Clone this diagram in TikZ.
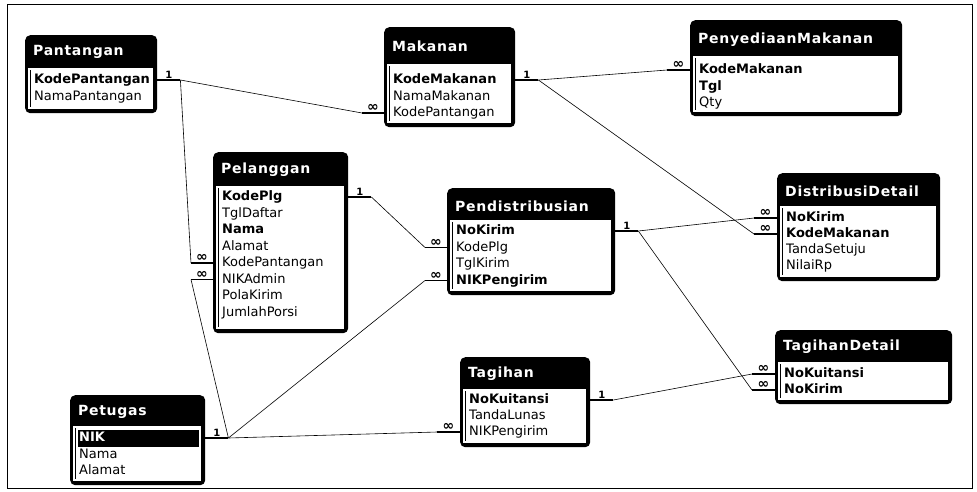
\documentclass[tikz,border=0pt]{standalone}
\usepackage{fontspec}
\usepackage{tikz}
\usetikzlibrary{positioning}
\newfontfamily\erdfont{DejaVu Sans}
\newfontfamily\erdtitlefont[LetterSpace=5]{DejaVu Sans}

\tikzset{
  tblbox/.style={anchor=north west, fill=black, rounded corners=5pt, inner sep=0pt},
  tblbody/.style={anchor=north west, fill=white, inner sep=0pt,
    path picture={\draw[line width=0.8pt] ([xshift=2.5pt,yshift=-2pt]path picture bounding box.north west)
      -- ([xshift=2.5pt,yshift=2pt]path picture bounding box.south west);}},
  ttl/.style={anchor=west, text=white, inner sep=0pt, font=\erdtitlefont\bfseries\fontsize{14}{14}\selectfont},
  fld/.style={anchor=west, text width=#1, inner xsep=0pt, inner ysep=0pt, text height=9.5pt, text depth=2.5pt,
    font=\erdfont\fontsize{13}{13}\selectfont, execute at begin node=\hspace*{9pt}},
  pk/.style={font=\erdfont\bfseries\fontsize{13}{13}\selectfont},
  stub/.style={line width=1.6pt},
  rel/.style={line width=0.6pt},
  card/.style={above, inner sep=0.5pt, font=\erdfont\bfseries\fontsize{10}{10}\selectfont},
  many/.style={card, font=\erdfont\bfseries\fontsize{14}{14}\selectfont},
}

\begin{document}
\begin{tikzpicture}[x=1pt, y=-1pt]
    \useasboundingbox (0,0) rectangle (977,491);
    \draw[line width=0.7pt] (7,4) rectangle (972,488);

    % Pantangan
    \node[tblbox, minimum width=132pt, minimum height=78pt] (pantBox) at (25,35) {};
    \node[tblbody, minimum width=125pt, minimum height=41pt] (pantBody) at (28,68) {};
    \node[ttl] (pantTitle) at (33,52) {Pantangan};
    \node[fld=132pt, pk] (pantKode) at (25,80) {KodePantangan};
    \node[fld=132pt] (pantNama) at (25,96.5) {NamaPantangan};

    % Makanan
    \node[tblbox, minimum width=131pt, minimum height=100pt] (makBox) at (384,27) {};
    \node[tblbody, minimum width=124pt, minimum height=59pt] (makBody) at (387,64) {};
    \node[ttl] (makTitle) at (392,46) {Makanan};
    \node[fld=131pt, pk] (makKode) at (384,80) {KodeMakanan};
    \node[fld=131pt] (makNama) at (384,96.5) {NamaMakanan};
    \node[fld=131pt] (makPant) at (384,113) {KodePantangan};

    % PenyediaanMakanan
    \node[tblbox, minimum width=212pt, minimum height=96pt] (pmBox) at (690,20) {};
    \node[tblbody, minimum width=205pt, minimum height=56pt] (pmBody) at (693,56) {};
    \node[ttl] (pmTitle) at (698,40) {PenyediaanMakanan};
    \node[fld=212pt, pk] (pmKode) at (690,70) {KodeMakanan};
    \node[fld=212pt, pk] (pmTgl) at (690,86.5) {Tgl};
    \node[fld=212pt] (pmQty) at (690,103) {Qty};

    % Pelanggan
    \node[tblbox, minimum width=135pt, minimum height=181pt] (pelBox) at (213,152) {};
    \node[tblbody, minimum width=128pt, minimum height=143pt] (pelBody) at (216,186) {};
    \node[ttl] (pelTitle) at (221,170) {Pelanggan};
    \node[fld=135pt, pk] (pelKode) at (213,197) {KodePlg};
    \node[fld=135pt] (pelTgl) at (213,213.5) {TglDaftar};
    \node[fld=135pt, pk] (pelNama) at (213,230) {Nama};
    \node[fld=135pt] (pelAlamat) at (213,246.5) {Alamat};
    \node[fld=135pt] (pelPant) at (213,263) {KodePantangan};
    \node[fld=135pt] (pelNIK) at (213,279.5) {NIKAdmin};
    \node[fld=135pt] (pelPola) at (213,296) {PolaKirim};
    \node[fld=135pt] (pelPorsi) at (213,312.5) {JumlahPorsi};

    % Pendistribusian
    \node[tblbox, minimum width=168pt, minimum height=107pt] (pdBox) at (447,188) {};
    \node[tblbody, minimum width=161pt, minimum height=71pt] (pdBody) at (450,220) {};
    \node[ttl] (pdTitle) at (455,206) {Pendistribusian};
    \node[fld=168pt, pk] (pdNoKirim) at (447,231) {NoKirim};
    \node[fld=168pt] (pdKodePlg) at (447,247.5) {KodePlg};
    \node[fld=168pt] (pdTgl) at (447,264) {TglKirim};
    \node[fld=168pt, pk] (pdNIK) at (447,280.5) {NIKPengirim};

    % DistribusiDetail
    \node[tblbox, minimum width=163pt, minimum height=108pt] (ddBox) at (777,173) {};
    \node[tblbody, minimum width=156pt, minimum height=71pt] (ddBody) at (780,206) {};
    \node[ttl] (ddTitle) at (785,191) {DistribusiDetail};
    \node[fld=163pt, pk] (ddNoKirim) at (777,218) {NoKirim};
    \node[fld=163pt, pk] (ddKodeMak) at (777,234) {KodeMakanan};
    \node[fld=163pt] (ddTanda) at (777,250) {TandaSetuju};
    \node[fld=163pt] (ddNilai) at (777,266) {NilaiRp};

    % TagihanDetail
    \node[tblbox, minimum width=177pt, minimum height=74pt] (tdBox) at (775,330) {};
    \node[tblbody, minimum width=170pt, minimum height=38pt] (tdBody) at (778,362) {};
    \node[ttl] (tdTitle) at (783,347) {TagihanDetail};
    \node[fld=177pt, pk] (tdNoKui) at (775,374) {NoKuitansi};
    \node[fld=177pt, pk] (tdNoKirim) at (775,390) {NoKirim};

    % Tagihan
    \node[tblbox, minimum width=130pt, minimum height=90pt] (tgBox) at (460,357) {};
    \node[tblbody, minimum width=123pt, minimum height=54pt] (tgBody) at (463,389) {};
    \node[ttl] (tgTitle) at (468,374) {Tagihan};
    \node[fld=130pt, pk] (tgNoKui) at (460,400) {NoKuitansi};
    \node[fld=130pt] (tgLunas) at (460,416) {TandaLunas};
    \node[fld=130pt] (tgNIK) at (460,432) {NIKPengirim};

    % Petugas
    \node[tblbox, minimum width=135pt, minimum height=90pt] (ptBox) at (70,395) {};
    \node[tblbody, minimum width=128pt, minimum height=55pt] (ptBody) at (73,426) {};
    \node[ttl] (ptTitle) at (78,412) {Petugas};
    \node[anchor=west, fill=black, inner sep=0pt, minimum width=121pt, minimum height=17pt] (ptSel) at (78,438) {};
    \node[fld=135pt, pk, text=white] (ptNIK) at (70,438) {NIK};
    \node[fld=135pt] (ptNama) at (70,455) {Nama};
    \node[fld=135pt] (ptAlamat) at (70,471) {Alamat};

    % stub ends
    \coordinate[right=23pt of pantKode.east] (pantKodeR);
    \coordinate[left=22pt of makPant.west] (makPantL);
    \coordinate[left=22pt of pelPant.west] (pelPantL);
    \coordinate[left=22pt of pelNIK.west] (pelNIKL);
    \coordinate[right=23pt of ptNIK.east] (ptNIKR);
    \coordinate[right=23pt of pelKode.east] (pelKodeR);
    \coordinate[left=22pt of pdKodePlg.west] (pdKodePlgL);
    \coordinate[left=22pt of pdNIK.west] (pdNIKL);
    \coordinate[right=23pt of pdNoKirim.east] (pdNoKirimR);
    \coordinate[left=23pt of ddNoKirim.west] (ddNoKirimL);
    \coordinate[left=23pt of ddKodeMak.west] (ddKodeMakL);
    \coordinate[left=23pt of tdNoKirim.west] (tdNoKirimL);
    \coordinate[left=23pt of tdNoKui.west] (tdNoKuiL);
    \coordinate[right=23pt of makKode.east] (makKodeR);
    \coordinate[left=23pt of pmKode.west] (pmKodeL);
    \coordinate[right=23pt of tgNoKui.east] (tgNoKuiR);
    \coordinate[left=23pt of tgNIK.west] (tgNIKL);

    % relationships
    \draw[stub] (pantKode.east) -- node[card] {1} (pantKodeR);
    \draw[stub] (makPantL) -- node[many] {∞} (makPant.west);
    \draw[stub] (pelPantL) -- node[many] {∞} (pelPant.west);
    \draw[stub] (pelNIKL) -- node[many] {∞} (pelNIK.west);
    \draw[stub] (ptNIK.east) -- node[card] {1} (ptNIKR);
    \draw[stub] (pelKode.east) -- node[card] {1} (pelKodeR);
    \draw[stub] (pdKodePlgL) -- node[many] {∞} (pdKodePlg.west);
    \draw[stub] (pdNIKL) -- node[many] {∞} (pdNIK.west);
    \draw[stub] (pdNoKirim.east) -- node[card] {1} (pdNoKirimR);
    \draw[stub] (ddNoKirimL) -- node[many] {∞} (ddNoKirim.west);
    \draw[stub] (ddKodeMakL) -- node[many] {∞} (ddKodeMak.west);
    \draw[stub] (tdNoKirimL) -- node[many] {∞} (tdNoKirim.west);
    \draw[stub] (tdNoKuiL) -- node[many] {∞} (tdNoKui.west);
    \draw[stub] (makKode.east) -- node[card] {1} (makKodeR);
    \draw[stub] (pmKodeL) -- node[many] {∞} (pmKode.west);
    \draw[stub] (tgNoKui.east) -- node[card] {1} (tgNoKuiR);
    \draw[stub] (tgNIKL) -- node[many] {∞} (tgNIK.west);

    \draw[rel] (pantKodeR) -- (makPantL);
    \draw[rel] (pantKodeR) -- (pelPantL);
    \draw[rel] (ptNIKR) -- (pelNIKL);
    \draw[rel] (ptNIKR) -- (pdNIKL);
    \draw[rel] (ptNIKR) -- (tgNIKL);
    \draw[rel] (pelKodeR) -- (pdKodePlgL);
    \draw[rel] (pdNoKirimR) -- (ddNoKirimL);
    \draw[rel] (pdNoKirimR) -- (tdNoKirimL);
    \draw[rel] (makKodeR) -- (pmKodeL);
    \draw[rel] (makKodeR) -- (ddKodeMakL);
    \draw[rel] (tgNoKuiR) -- (tdNoKuiL);
\end{tikzpicture}
\end{document}
